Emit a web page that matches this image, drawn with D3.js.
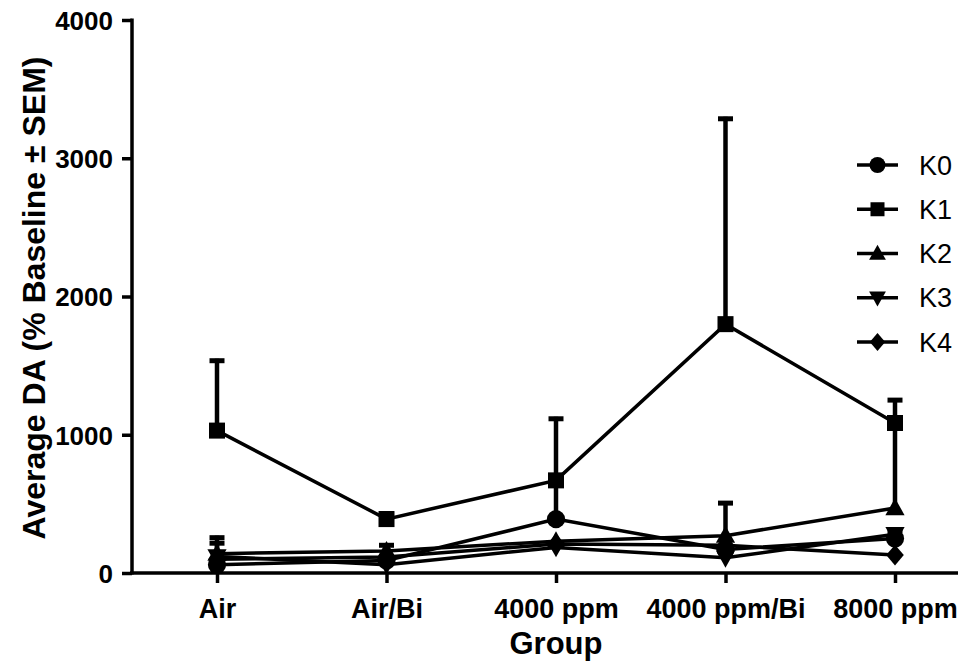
<!DOCTYPE html>
<html><head><meta charset="utf-8">
<script src="https://cdn.jsdelivr.net/npm/d3@7"></script>
<style>body{margin:0;background:#fff}svg{display:block}text{font-family:"Liberation Sans",Arial,sans-serif}</style>
</head><body>
<svg id="c" width="973" height="669"></svg>
<script>
const groups = ["Air", "Air/Bi", "4000 ppm", "4000 ppm/Bi", "8000 ppm"];
const seriesNames = ["K0", "K1", "K2", "K3", "K4"];
const K0 = [60, 90, 390, 170, 250];
const K1 = [1030, 390, 670, 1800, 1085];
const K2 = [140, 160, 230, 270, 470];
const K3 = [120, 60, 185, 110, 280];
const K4 = [100, 115, 210, 200, 130];
const K0err = [0, 0, 270, 0, 70];
const K1err = [520, 55, 460, 1500, 180];
const K2err = [130, 0, 0, 250, 610];
const K3err = [110, 0, 0, 0, 0];
const K4err = [0, 100, 0, 0, 0];
const yTicks = [0, 1000, 2000, 3000, 4000];

const values = [K0, K1, K2, K3, K4];
const errs = [K0err, K1err, K2err, K3err, K4err];
const shapes = ["circle", "square", "tri", "tridown", "diamond"];

const svg = d3.select("#c");
const x = d3.scalePoint().domain(groups).range([217, 895]);
const y = d3.scaleLinear().domain([0, 4000]).range([573, 20]);
const FONT = '"Liberation Sans",Arial,sans-serif';

// axes
const yAxis = svg.append("g").attr("transform", "translate(132,0)")
  .call(d3.axisLeft(y).tickValues(yTicks).tickFormat(d3.format("d")).tickSize(10).tickSizeOuter(0).tickPadding(9));
yAxis.select(".domain").remove();
svg.append("line").attr("x1",132).attr("x2",132).attr("y1",y(4000)-1.5).attr("y2",y(0)+1.5)
  .attr("stroke","#000").attr("stroke-width",3.5);
yAxis.selectAll(".tick line").attr("stroke","#000").attr("stroke-width",3.5);
yAxis.selectAll(".tick text").attr("font-size",26).attr("font-weight","bold").attr("fill","#000").attr("font-family",FONT).attr("dy","0.36em");

const xAxis = svg.append("g").attr("transform", `translate(0,${y(0)})`)
  .call(d3.axisBottom(x).tickSize(10).tickSizeOuter(0));
xAxis.select(".domain").remove();
svg.append("line").attr("x1",130).attr("x2",958).attr("y1",y(0)).attr("y2",y(0))
  .attr("stroke","#000").attr("stroke-width",3.5);
xAxis.selectAll(".tick line").attr("stroke","#000").attr("stroke-width",3.5);
xAxis.selectAll(".tick text").attr("font-size",27).attr("font-weight","bold").attr("fill","#000").attr("font-family",FONT)
  .attr("y",45).attr("dy",null);

svg.append("text").attr("x", 556).attr("y", 654).attr("text-anchor","middle")
  .attr("font-size",31).attr("font-weight","bold").text("Group");
svg.append("text").attr("transform","translate(45,298) rotate(-90)").attr("text-anchor","middle")
  .attr("font-size",32).attr("font-weight","bold").text("Average DA (% Baseline ± SEM)");

function marker(g, shape, cx, cy, s) {
  if (shape === "circle") g.append("circle").attr("cx",cx).attr("cy",cy).attr("r",s*0.57);
  else if (shape === "square") g.append("rect").attr("x",cx-s/2).attr("y",cy-s/2).attr("width",s).attr("height",s);
  else if (shape === "tri") g.append("path").attr("d",`M${cx},${cy-s*0.62}L${cx+s*0.6},${cy+s*0.45}L${cx-s*0.6},${cy+s*0.45}Z`);
  else if (shape === "tridown") g.append("path").attr("d",`M${cx},${cy+s*0.62}L${cx+s*0.6},${cy-s*0.45}L${cx-s*0.6},${cy-s*0.45}Z`);
  else g.append("path").attr("d",`M${cx},${cy-s*0.65}L${cx+s*0.55},${cy}L${cx},${cy+s*0.65}L${cx-s*0.55},${cy}Z`);
}

const plot = svg.append("g");
const line = d3.line().x((d,i)=>x(groups[i])).y(d=>y(d));
// error bars
values.forEach((vals, si) => {
  vals.forEach((v, i) => {
    const e = errs[si][i];
    if (!e) return;
    const cx = x(groups[i]);
    plot.append("line").attr("x1",cx).attr("x2",cx).attr("y1",y(v)).attr("y2",y(v+e)).attr("stroke","#000").attr("stroke-width",4.5);
    plot.append("line").attr("x1",cx-7.5).attr("x2",cx+7.5).attr("y1",y(v+e)+2).attr("y2",y(v+e)+2).attr("stroke","#000").attr("stroke-width",5);
  });
});
values.forEach((vals, si) => {
  plot.append("path").datum(vals).attr("d", line).attr("fill","none").attr("stroke","#000").attr("stroke-width",3.5);
});
values.forEach((vals, si) => {
  vals.forEach((v, i) => marker(plot, shapes[si], x(groups[i]), y(v), 16));
});

// legend
const leg = svg.append("g");
const legY = d3.scalePoint().domain(seriesNames).range([165, 342]);
seriesNames.forEach((n, si) => {
  const yy = legY(n);
  leg.append("line").attr("x1",857).attr("x2",898).attr("y1",yy).attr("y2",yy).attr("stroke","#000").attr("stroke-width",3.5);
  marker(leg, shapes[si], 877.5, yy, 14);
  leg.append("text").attr("x",919).attr("y",yy).attr("dy","0.36em").attr("font-size",27).text(n);
});
</script>
</body></html>
